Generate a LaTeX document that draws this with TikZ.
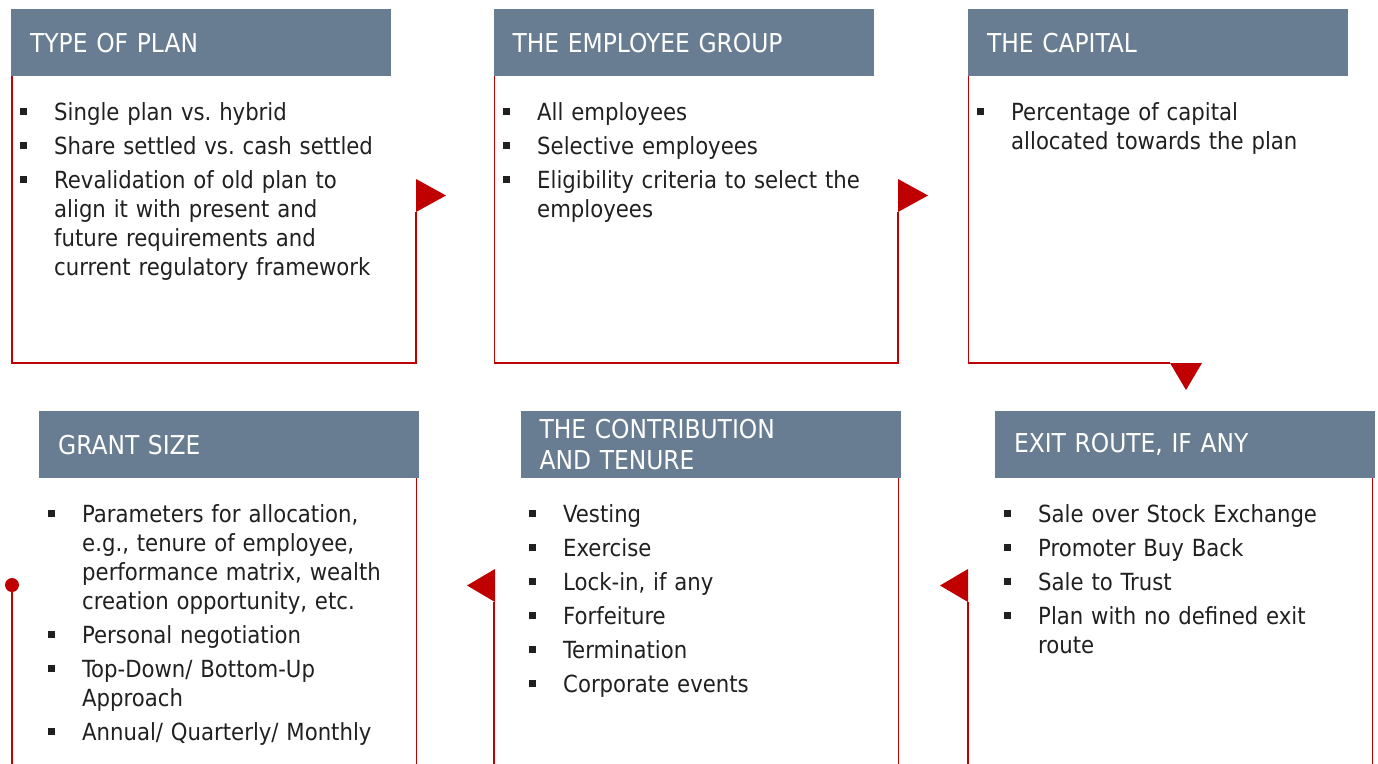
\documentclass[tikz,border=0pt]{standalone}
\usepackage{fontspec}
\setmainfont{DejaVu Sans Condensed}
\usepackage{enumitem}
\usetikzlibrary{positioning}
\definecolor{headblue}{RGB}{104,125,145}
\definecolor{flagred}{RGB}{192,0,0}
\definecolor{textgray}{RGB}{32,32,32}
\frenchspacing
\tikzset{
    head/.style={
        fill=headblue,
        text=white,
        anchor=north west,
        minimum width=380pt,
        minimum height=67pt,
        text width=342pt,
        inner xsep=19pt,
        inner ysep=0pt,
        align=left,
        font=\fontsize{26}{31}\selectfont
    },
    body/.style={
        anchor=north west,
        inner sep=0pt,
        text width=400pt,
        text=textgray,
        font=\fontsize{23.6}{29}\selectfont
    },
    frame/.style={
        draw=flagred,
        line width=1.3pt
    }
}
\newcommand{\points}[1]{\begin{itemize}[label={\strut\rule[5.5pt]{6.5pt}{7pt}},
    leftmargin=34pt, labelwidth=6.5pt, labelsep=27.5pt, align=left,
    itemsep=5pt, parsep=0pt, topsep=0pt, partopsep=0pt]#1\end{itemize}}
\newcommand{\flagright}[1]{\fill[flagred] (#1) ++(0,-16.5) -- ++(30,16.5) -- ++(-30,16.5) -- cycle;}
\newcommand{\flagleft}[1]{\fill[flagred] (#1) ++(0,-16.5) -- ++(-28,16.5) -- ++(28,16.5) -- cycle;}
\newcommand{\flagdown}[1]{\fill[flagred] (#1) ++(-16,0) -- ++(16,27) -- ++(16,-27) -- cycle;}

\begin{document}
\begin{tikzpicture}[x=1pt, y=-1pt]
\useasboundingbox (0,0) rectangle (1378,763);

% Headers
\node (plan) [head] at (11,9) {TYPE OF PLAN};
\node (group) [head, right=102pt of plan.north east, anchor=north west] {THE EMPLOYEE GROUP};
\node (capital) [head, right=94pt of group.north east, anchor=north west] {THE CAPITAL};
\node (grant) [head] at (39,411) {GRANT SIZE};
\node (tenure) [head, right=101pt of grant.north east, anchor=north west] {THE CONTRIBUTION\\AND TENURE};
\node (exit) [head, right=94pt of tenure.north east, anchor=north west] {EXIT ROUTE, IF ANY};

% Lists
\node (planlist) [body] at (20,91.5) {\points{
    \item Single plan vs. hybrid
    \item Share settled vs. cash settled
    \item Revalidation of old plan to\newline align it with present and\newline future requirements and\newline current regulatory framework}};
\node (grouplist) [body] at (503,91.5) {\points{
    \item All employees
    \item Selective employees
    \item Eligibility criteria to select the\newline employees}};
\node (capitallist) [body] at (977,91.5) {\points{
    \item Percentage of capital\newline allocated towards the plan}};
\node (grantlist) [body] at (48,493) {\points{
    \item Parameters for allocation,\newline e.g., tenure of employee,\newline performance matrix, wealth\newline creation opportunity, etc.
    \item Personal negotiation
    \item Top-Down/ Bottom-Up\newline Approach
    \item Annual/ Quarterly/ Monthly}};
\node (tenurelist) [body] at (529,493) {\points{
    \item Vesting
    \item Exercise
    \item Lock-in, if any
    \item Forfeiture
    \item Termination
    \item Corporate events}};
\node (exitlist) [body] at (1004,493) {\points{
    \item Sale over Stock Exchange
    \item Promoter Buy Back
    \item Sale to Trust
    \item Plan with no defined exit\newline route}};

% Frames
\draw[frame] ([xshift=1pt]plan.south west) |- (416,363) -- (416,212);
\draw[frame] ([xshift=1pt]group.south west) |- (898,363) -- (898,212);
\draw[frame] ([xshift=1pt]capital.south west) |- (1170,363);
\draw[frame] (12,585) -- (12,764);
\draw[frame] ([xshift=-3pt]grant.south east) -- ++(0,290);
\draw[frame] (494,602) -- (494,764);
\draw[frame] ([xshift=-2pt]tenure.south east) -- ++(0,290);
\draw[frame] (968,602) -- (968,764);
\draw[frame] ([xshift=-3pt]exit.south east) -- ++(0,290);

% Flags
\flagright{416,195.5}
\flagright{898,195.5}
\flagdown{1186,363}
\fill[flagred] (12,585) circle (7);
\flagleft{495,585.5}
\flagleft{968,585.5}

\end{tikzpicture}
\end{document}
